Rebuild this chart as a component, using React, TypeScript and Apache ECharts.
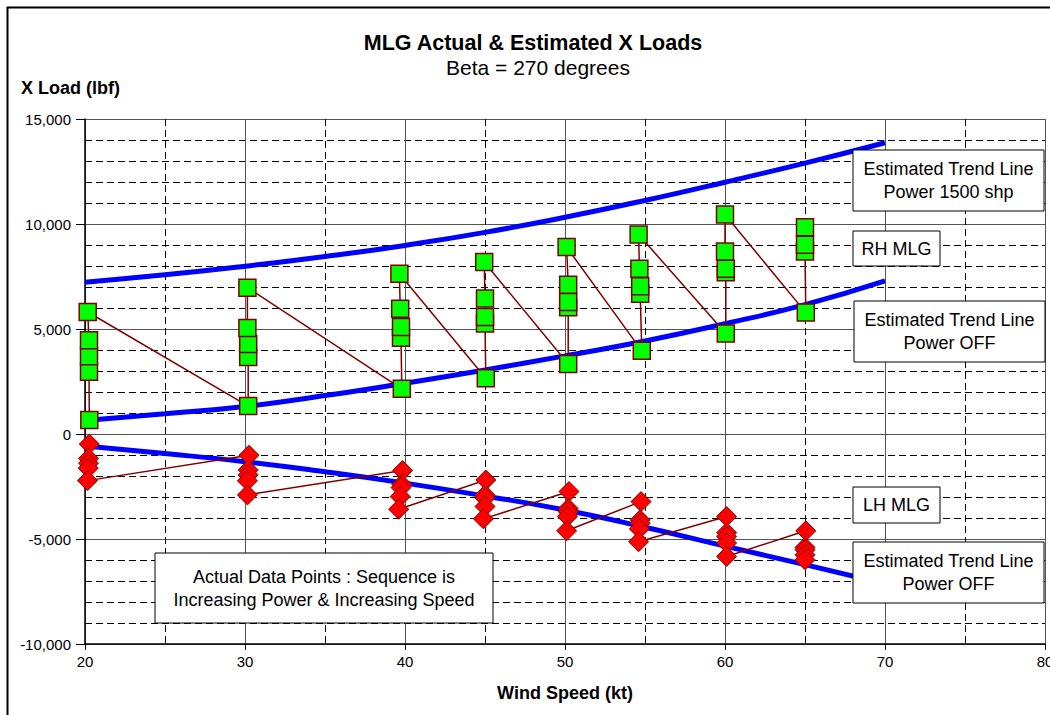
import React, { useEffect, useRef } from 'react';
import * as echarts from 'echarts';

const FONT = '"Liberation Sans", Arial, Helvetica, sans-serif';

// Estimated trend lines (wind speed kt -> X load lbf)
const trendSpeed = [20, 25, 30, 35, 40, 45, 50, 55, 60, 65, 70];
const rhTrend1500 = [7230, 7580, 7990, 8450, 8980, 9600, 10320, 11120, 11990, 12900, 13870];
const rhTrendOff = [640, 960, 1310, 1830, 2420, 3050, 3720, 4430, 5250, 6160, 7290];
const lhTrendOff = [-570, -930, -1320, -1800, -2340, -2950, -3620, -4440, -5340, -6220, -7130];

// Actual data points, sequence = increasing power & increasing speed
const rhSpeed = [
  20.27, 20.25, 20.25, 20.25, 20.17,
  30.2, 30.2, 30.2, 30.15, 30.15,
  39.8, 39.75, 39.75, 39.7, 39.65,
  45.05, 45.0, 45.0, 45.0, 44.95,
  50.2, 50.2, 50.2, 50.2, 50.1,
  54.8, 54.7, 54.7, 54.65, 54.6,
  60.05, 60.05, 60.05, 60.0, 60.0,
  65.05, 65.0, 65.0, 65.0,
];
const rhLoad = [
  670, 2960, 3700, 4470, 5810,
  1330, 3670, 4280, 5050, 6970,
  2150, 4580, 5100, 5970, 7630,
  2650, 5260, 5570, 6450, 8190,
  3330, 6030, 6280, 7110, 8900,
  3960, 6680, 7030, 7870, 9500,
  4780, 7700, 7870, 8690, 10450,
  5780, 8690, 9010, 9850,
];
const lhSpeed = [
  20.27, 20.22, 20.22, 20.2, 20.15,
  30.25, 30.2, 30.2, 30.15, 30.15,
  39.85, 39.8, 39.75, 39.7, 39.6,
  45.05, 45.0, 45.0, 45.0, 44.9,
  50.25, 50.2, 50.2, 50.15, 50.1,
  54.75, 54.7, 54.7, 54.65, 54.6,
  60.1, 60.1, 60.1, 60.1, 60.1,
  65.05, 65.0, 65.0, 65.0, 65.0,
];
const lhLoad = [
  -480, -1160, -1390, -1630, -2220,
  -1010, -1710, -1950, -2230, -2900,
  -1740, -2400, -2550, -2980, -3580,
  -2190, -2900, -3050, -3450, -4040,
  -2740, -3550, -3700, -3930, -4610,
  -3220, -4090, -4250, -4520, -5130,
  -3930, -4700, -4880, -5190, -5830,
  -4610, -5400, -5510, -5750, -5990,
];

const xTicks = { min: 20, max: 80, interval: 10 };
const yTicks = { min: -10000, max: 15000, interval: 5000 };

const pairs = (xs: number[], ys: number[]) => xs.map((x, i) => [x, ys[i]]);

function box(x: number, y: number, w: number, h: number, text: string) {
  return {
    type: 'group',
    z: 100,
    children: [
      {
        type: 'rect',
        z: 100,
        shape: { x, y, width: w, height: h },
        style: { fill: '#ffffff', stroke: '#000000', lineWidth: 1 },
      },
      {
        type: 'text',
        z: 101,
        x: x + w / 2,
        y: y + h / 2,
        style: {
          text,
          fill: '#000',
          fontSize: 18,
          fontFamily: FONT,
          lineHeight: 23,
          textAlign: 'center',
          textVerticalAlign: 'middle',
          align: 'center',
          verticalAlign: 'middle',
        },
      },
    ],
  };
}

export default function App() {
  const ref = useRef<HTMLDivElement>(null);
  useEffect(() => {
    if (!ref.current) return;
    const chart = echarts.init(ref.current, null, { renderer: 'svg' });
    const trendStyle = { color: '#0000FF', width: 5 };
    chart.setOption({
      animation: false,
      backgroundColor: '#ffffff',
      textStyle: { fontFamily: FONT },
      grid: {
        left: 85,
        right: 5,
        top: 119,
        bottom: 71,
        containLabel: false,
        outerBoundsMode: 'none',
      },
      xAxis: {
        type: 'value',
        min: xTicks.min,
        max: xTicks.max,
        interval: xTicks.interval,
        name: 'Wind Speed (kt)',
        nameLocation: 'middle',
        nameGap: 40,
        nameTextStyle: { fontSize: 18, fontWeight: 'bold', color: '#000', fontFamily: FONT },
        axisLine: { show: true, onZero: false, lineStyle: { color: '#000', width: 1.5 } },
        axisTick: { show: true, length: 6, lineStyle: { color: '#000' } },
        axisLabel: { fontSize: 15, color: '#000', margin: 10, fontFamily: FONT },
        splitLine: { show: true, lineStyle: { color: '#555', width: 1 } },
        minorTick: { show: false, splitNumber: 2 },
        minorSplitLine: { show: true, lineStyle: { color: '#000', width: 1, type: [7, 4] } },
      },
      yAxis: {
        type: 'value',
        min: yTicks.min,
        max: yTicks.max,
        interval: yTicks.interval,
        axisLine: { show: true, onZero: false, lineStyle: { color: '#000', width: 1.5 } },
        axisTick: { show: true, length: 9, lineStyle: { color: '#000' } },
        axisLabel: {
          fontSize: 15,
          color: '#000',
          margin: 14,
          fontFamily: FONT,
          formatter: (v: number) => v.toLocaleString('en-US'),
        },
        splitLine: { show: true, lineStyle: { color: '#555', width: 1 } },
        minorTick: { show: false, splitNumber: 5 },
        minorSplitLine: { show: true, lineStyle: { color: '#000', width: 1, type: [7, 4] } },
      },
      series: [
        {
          name: 'Estimated Trend Line Power 1500 shp',
          type: 'line',
          data: pairs(trendSpeed, rhTrend1500),
          smooth: true,
          showSymbol: false,
          symbol: 'none',
          lineStyle: trendStyle,
          z: 3,
        },
        {
          name: 'Estimated Trend Line Power OFF (RH)',
          type: 'line',
          data: pairs(trendSpeed, rhTrendOff),
          smooth: true,
          showSymbol: false,
          symbol: 'none',
          lineStyle: trendStyle,
          z: 3,
        },
        {
          name: 'Estimated Trend Line Power OFF (LH)',
          type: 'line',
          data: pairs(trendSpeed, lhTrendOff),
          smooth: true,
          showSymbol: false,
          symbol: 'none',
          lineStyle: trendStyle,
          z: 3,
        },
        {
          name: 'RH MLG',
          type: 'line',
          data: pairs(rhSpeed, rhLoad),
          symbol: 'rect',
          symbolSize: 17,
          showAllSymbol: true,
          lineStyle: { color: '#800000', width: 1.5 },
          itemStyle: { color: '#00FF00', borderColor: '#800000', borderWidth: 1.5 },
          z: 4,
        },
        {
          name: 'LH MLG',
          type: 'line',
          data: pairs(lhSpeed, lhLoad),
          symbol: 'diamond',
          symbolSize: 20,
          showAllSymbol: true,
          lineStyle: { color: '#800000', width: 1.5 },
          itemStyle: { color: '#FF0000', borderColor: '#800000', borderWidth: 1 },
          z: 4,
        },
      ],
      graphic: [
        {
          type: 'rect',
          z: 0,
          silent: true,
          shape: { x: 7.5, y: 7.5, width: 1100, height: 800 },
          style: { fill: 'none', stroke: '#000', lineWidth: 2 },
        },
        {
          type: 'text',
          x: 533,
          y: 43,
          style: {
            text: 'MLG Actual & Estimated X Loads',
            fill: '#000',
            fontSize: 21.5,
            fontWeight: 'bold',
            fontFamily: FONT,
            textAlign: 'center',
            textVerticalAlign: 'middle',
            align: 'center',
            verticalAlign: 'middle',
          },
        },
        {
          type: 'text',
          x: 538,
          y: 67,
          style: {
            text: 'Beta = 270 degrees',
            fill: '#000',
            fontSize: 21,
            fontFamily: FONT,
            textAlign: 'center',
            textVerticalAlign: 'middle',
            align: 'center',
            verticalAlign: 'middle',
          },
        },
        {
          type: 'text',
          x: 21,
          y: 88,
          style: {
            text: 'X Load (lbf)',
            fill: '#000',
            fontSize: 18,
            fontWeight: 'bold',
            fontFamily: FONT,
            textAlign: 'left',
            textVerticalAlign: 'middle',
            align: 'left',
            verticalAlign: 'middle',
          },
        },
        box(853, 150, 191, 61, 'Estimated Trend Line\nPower 1500 shp'),
        box(853, 231, 87, 35, 'RH MLG'),
        box(854, 301, 191, 61, 'Estimated Trend Line\nPower OFF'),
        box(853, 487, 87, 36, 'LH MLG'),
        box(853, 542, 191, 61, 'Estimated Trend Line\nPower OFF'),
        box(155, 553, 338, 70, 'Actual Data Points : Sequence is\nIncreasing Power & Increasing Speed'),
      ],
    });
    return () => chart.dispose();
  }, []);
  return (
    <div
      ref={ref}
      style={{ position: 'fixed', left: 0, top: 0, width: 1050, height: 715, background: '#fff' }}
    />
  );
}
